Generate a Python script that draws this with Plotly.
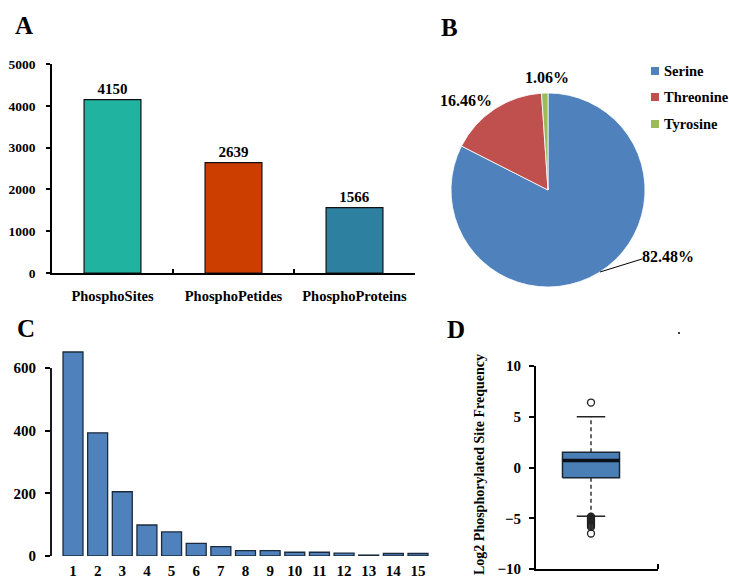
import plotly.graph_objects as go

W, H = 729, 580
FONT = "Liberation Serif, Times New Roman, serif"

# ---------------- data ----------------
# Panel A
a_categories = ["PhosphoSites", "PhosphoPetides", "PhosphoProteins"]
a_values = [4150, 2639, 1566]
a_colors = ["#1fb3a0", "#cc3d00", "#2e80a0"]
a_ticks = [0, 1000, 2000, 3000, 4000, 5000]

# Panel B
b_labels = ["Serine", "Threonine", "Tyrosine"]
b_values = [82.48, 16.46, 1.06]
b_colors = ["#4f81bd", "#c0504d", "#9bbb59"]

# Panel C
c_categories = [str(i) for i in range(1, 16)]
c_values = [651, 393, 205, 99, 77, 40, 30, 17, 17, 12, 12, 9, 3, 8, 8]
c_ticks = [0, 200, 400, 600]

# Panel D (box statistics, log2 frequency)
d_q1 = -1.0
d_median = 0.7
d_q3 = 1.5
d_lower = -4.8
d_upper = 5.0
d_outliers = [6.4, -4.85, -4.95, -5.05, -5.15, -5.25, -5.35, -5.45, -5.55,
              -5.65, -5.75, -5.85, -6.5]
d_ticks = [-10, -5, 0, 5, 10]


def px_x(v):
    return v / W


def px_y(v):
    return 1 - v / H


def bold(size):
    return dict(family=FONT, size=size, color="black", weight="bold")


fig = go.Figure()

# ---------------- Panel A ----------------
fig.add_trace(go.Bar(
    x=a_categories, y=a_values, marker=dict(color=a_colors, line=dict(color="#111111", width=1.2)),
    width=0.47, text=[str(v) for v in a_values], textposition="outside",
    textfont=bold(15), cliponaxis=False, showlegend=False, xaxis="x", yaxis="y", hoverinfo="skip"))

# ---------------- Panel B ----------------
fig.add_trace(go.Pie(
    labels=b_labels, values=b_values, marker=dict(colors=b_colors, line=dict(color="white", width=0.8)),
    sort=False, direction="clockwise", rotation=0, textinfo="none",
    domain=dict(x=[px_x(451), px_x(645)], y=[px_y(287), px_y(93)]),
    showlegend=False, hoverinfo="skip"))

# ---------------- Panel C ----------------
fig.add_trace(go.Bar(
    x=c_categories, y=c_values, marker=dict(color="#4f81bd", line=dict(color="#1b2b3c", width=1.3)),
    showlegend=False, xaxis="x2", yaxis="y2", hoverinfo="skip"))

# ---------------- Panel D ----------------
xc = 0.0
hw = 0.5
cw = 0.25
fig.add_trace(go.Scatter(
    x=[xc, xc], y=[d_q3, d_upper], mode="lines",
    line=dict(color="black", width=1.2, dash="4px,3px"), showlegend=False, xaxis="x3", yaxis="y3", hoverinfo="skip"))
fig.add_trace(go.Scatter(
    x=[xc, xc], y=[d_q1, d_lower], mode="lines",
    line=dict(color="black", width=1.2, dash="4px,3px"), showlegend=False, xaxis="x3", yaxis="y3", hoverinfo="skip"))
for yv in (d_upper, d_lower):
    fig.add_trace(go.Scatter(
        x=[xc - cw, xc + cw], y=[yv, yv], mode="lines",
        line=dict(color="#222222", width=1.5), showlegend=False, xaxis="x3", yaxis="y3", hoverinfo="skip"))
fig.add_trace(go.Scatter(
    x=[xc - hw, xc + hw, xc + hw, xc - hw, xc - hw],
    y=[d_q1, d_q1, d_q3, d_q3, d_q1], mode="lines", fill="toself", fillcolor="#4a7fb6",
    line=dict(color="#1a2633", width=1.5), showlegend=False, xaxis="x3", yaxis="y3", hoverinfo="skip"))
fig.add_trace(go.Scatter(
    x=[xc - hw, xc + hw], y=[d_median, d_median], mode="lines",
    line=dict(color="#0a0f18", width=3.5), showlegend=False, xaxis="x3", yaxis="y3", hoverinfo="skip"))
fig.add_trace(go.Scatter(
    x=[xc] * len(d_outliers), y=d_outliers, mode="markers",
    marker=dict(symbol="circle-open", size=7, color="#222222", line=dict(width=1.3)),
    showlegend=False, xaxis="x3", yaxis="y3", hoverinfo="skip"))

# Panel C x-range: bar 1 centre at px 73, spacing 24.64 px, axis at px 51
c_sp = (418 - 73) / 14
c_lo = 0 - (73 - 51) / c_sp
c_hi = 14 + (431 - 418) / c_sp

# Panel D x-range: box centre px 591, half width 28.5 px -> 57 px per unit
d_unit = 57.0
d_lo = -(591 - 536) / d_unit
d_hi = (658 - 591) / d_unit

fig.update_layout(
    width=W, height=H, autosize=False,
    margin=dict(l=0, r=0, t=0, b=0, autoexpand=False),
    paper_bgcolor="white", plot_bgcolor="rgba(0,0,0,0)",
    font=dict(family=FONT, color="black"),
    bargap=0.19,
    xaxis=dict(domain=[px_x(52), px_x(415)], anchor="y", type="category", range=[-0.5, 2.5],
               showline=True, linecolor="black", linewidth=1.5, ticks="inside", ticklen=4,
               tickwidth=1.5, tickcolor="black", tickson="boundaries", showgrid=False,
               tickfont=bold(14.5), ticklabelstandoff=9, fixedrange=True, automargin=False),
    yaxis=dict(domain=[px_y(273), px_y(64)], anchor="x", range=[0, 5000], tickvals=a_ticks,
               showline=True, linecolor="black", linewidth=1.5, ticks="outside", ticklen=4,
               tickwidth=1.5, tickcolor="black", showgrid=False, zeroline=False,
               tickfont=bold(13.5), ticklabelstandoff=8, fixedrange=True, automargin=False),
    xaxis2=dict(domain=[px_x(51), px_x(431)], anchor="y2", type="category", range=[c_lo, c_hi],
                showline=False, ticks="", showgrid=False,
                tickfont=bold(15), ticklabelstandoff=4, fixedrange=True, automargin=False),
    yaxis2=dict(domain=[px_y(556), px_y(556 - 660 * (556 - 368) / 600)], anchor="x2", range=[0, 660],
                tickvals=c_ticks, showline=False, ticks="outside", ticklen=5, tickwidth=1.5,
                tickcolor="black", showgrid=False, zeroline=False,
                tickfont=bold(15), ticklabelstandoff=6, fixedrange=True, automargin=False),
    xaxis3=dict(domain=[px_x(536), px_x(658)], anchor="y3", range=[d_lo, d_hi], showline=True,
                linecolor="black", linewidth=2, showticklabels=False, ticks="",
                showgrid=False, zeroline=False, fixedrange=True, automargin=False),
    yaxis3=dict(domain=[px_y(569), px_y(366)], anchor="x3", range=[-10, 10], tickvals=d_ticks,
                showline=True, linecolor="black", linewidth=2, ticks="outside", ticklen=5,
                tickwidth=1.5, tickcolor="black", showgrid=False, zeroline=False,
                tickfont=bold(15), ticklabelstandoff=5, fixedrange=True, automargin=False),
)

annotations = []
shapes = []

# Panel letters
for letter, (lx, ly) in {"A": (24, 26), "B": (449, 28), "C": (26, 328), "D": (456, 329)}.items():
    annotations.append(dict(text=letter, x=px_x(lx), y=px_y(ly), xref="paper", yref="paper",
                            xanchor="center", yanchor="middle", showarrow=False, font=bold(25)))

# Pie labels
pie_label_pos = [(668, 257), (466, 100), (547, 78)]
for v, (lx, ly) in zip(b_values, pie_label_pos):
    annotations.append(dict(text=f"{v:.2f}%", x=px_x(lx), y=px_y(ly), xref="paper", yref="paper",
                            xanchor="center", yanchor="middle", showarrow=False, font=bold(16)))
shapes.append(dict(type="line", xref="paper", yref="paper",
                   x0=px_x(600), y0=px_y(272), x1=px_x(642), y1=px_y(259),
                   line=dict(color="black", width=1)))

# Pie legend (manual)
leg_y = [71, 97, 124]
for lab, col, ly in zip(b_labels, b_colors, leg_y):
    shapes.append(dict(type="rect", xref="paper", yref="paper",
                       x0=px_x(651), x1=px_x(659), y0=px_y(ly + 4), y1=px_y(ly - 4),
                       fillcolor=col, line=dict(width=0)))
    annotations.append(dict(text=lab, x=px_x(662), y=px_y(ly), xref="paper", yref="paper",
                            xanchor="left", yanchor="middle", showarrow=False, font=bold(14.5)))

# Panel C y-axis line (0 to 600)
shapes.append(dict(type="line", xref="x2 domain", yref="y2", x0=0, x1=0, y0=0, y1=c_ticks[-1],
                   line=dict(color="black", width=1.8)))

# Panel D right end tick
shapes.append(dict(type="line", xref="x3 domain", yref="paper", x0=1, x1=1,
                   y0=px_y(569), y1=px_y(564), line=dict(color="black", width=2)))

# Panel D y-axis title
annotations.append(dict(text="Log2 Phosphorylated Site Frequency", x=px_x(479), y=px_y(465),
                        xref="paper", yref="paper", textangle=-90, xanchor="center",
                        yanchor="middle", showarrow=False, font=bold(14)))

# stray dot in panel D
shapes.append(dict(type="circle", xref="paper", yref="paper",
                   x0=px_x(678), x1=px_x(680), y0=px_y(334), y1=px_y(332),
                   fillcolor="black", line=dict(width=0)))

fig.update_layout(annotations=annotations, shapes=shapes)

fig.write_html("out.html", config={"displayModeBar": False},
               post_script="document.body.style.margin='0';")
